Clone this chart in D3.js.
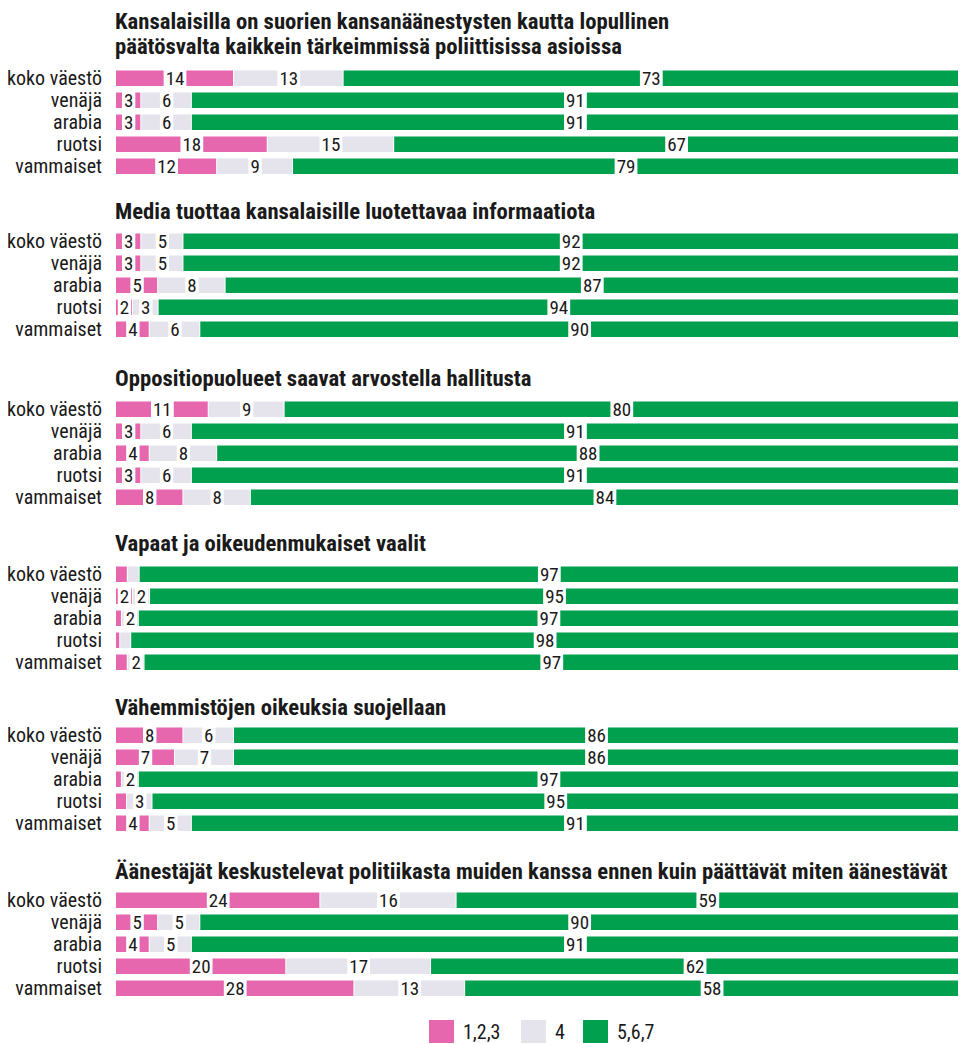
<!DOCTYPE html>
<html><head><meta charset="utf-8">
<script src="https://cdn.jsdelivr.net/npm/d3@7"></script>
<style>
html,body{margin:0;padding:0;background:#fff;}
svg{display:block;}
text{font-family:"Liberation Sans Narrow","Roboto Condensed","DejaVu Sans Condensed",sans-serif;fill:#1a1a1a;}
</style></head>
<body>
<svg id="chart" width="960" height="1044"></svg>
<script>
const groups = ["koko väestö", "venäjä", "arabia", "ruotsi", "vammaiset"];
const categories = ["1,2,3", "4", "5,6,7"];
const colors = ["#e667ae", "#e5e3eb", "#00a04f"];

const titles = [
  ["Kansalaisilla on suorien kansanäänestysten kautta lopullinen", "päätösvalta kaikkein tärkeimmissä poliittisissa asioissa"],
  ["Media tuottaa kansalaisille luotettavaa informaatiota"],
  ["Oppositiopuolueet saavat arvostella hallitusta"],
  ["Vapaat ja oikeudenmukaiset vaalit"],
  ["Vähemmistöjen oikeuksia suojellaan"],
  ["Äänestäjät keskustelevat politiikasta muiden kanssa ennen kuin päättävät miten äänestävät"]
];

// values per group: [1,2,3 , 4 , 5,6,7]
const q1 = [[14, 13, 73], [3, 6, 91], [3, 6, 91], [18, 15, 67], [12, 9, 79]];
const q2 = [[3, 5, 92], [3, 5, 92], [5, 8, 87], [2, 3, 94], [4, 6, 90]];
const q3 = [[11, 9, 80], [3, 6, 91], [4, 8, 88], [3, 6, 91], [8, 8, 84]];
const q4 = [[1.4, 1.4, 97], [2, 2, 95], [0.7, 2, 97], [0.5, 1.3, 98], [1.4, 2, 97]];
const q5 = [[8, 6, 86], [7, 7, 86], [0.7, 2, 97], [1.3, 3, 95], [4, 5, 91]];
const q6 = [[24, 16, 59], [5, 5, 90], [4, 5, 91], [20, 17, 62], [28, 13, 58]];
const panels = [q1, q2, q3, q4, q5, q6];

// layout
const X0 = 116, X1 = 959;
const panelTops = [70.5, 233.5, 401.5, 566.5, 727.5, 892.5];
const titleBaselines = [54, 218.5, 386, 550.5, 715, 879.3];
const lineH = 24.7;

const svg = d3.select("#chart");
const x = d3.scaleLinear().domain([0, 1]).range([X0, X1]);
const y = d3.scaleBand().domain(groups).range([0, 4 * 22 + 15.5]).paddingInner(6.5 / 22).paddingOuter(0);
const color = d3.scaleOrdinal().domain(categories).range(colors);
const fmt = d3.format(".0f");

panels.forEach((data, pi) => {
  const top = panelTops[pi];
  const tl = titles[pi];
  tl.forEach((line, li) => {
    svg.append("text")
      .attr("x", X0 - 1)
      .attr("y", titleBaselines[pi] - (tl.length - 1 - li) * lineH)
      .attr("font-size", 22.7)
      .attr("font-weight", "bold")
      .attr("fill", "#111")
      .text(line);
  });
  const g = svg.append("g").attr("transform", `translate(0,${top})`);
  groups.forEach((grp, gi) => {
    const vals = data[gi];
    const total = d3.sum(vals);
    const stack = [];
    let acc = 0;
    vals.forEach((v, ci) => { stack.push({c: categories[ci], v, s: acc / total, e: (acc + v) / total}); acc += v; });
    const row = g.append("g").attr("transform", `translate(0,${y(grp)})`);
    const bh = y.bandwidth();
    row.selectAll("rect.seg").data(stack).join("rect")
      .attr("class", "seg")
      .attr("x", d => x(d.s))
      .attr("width", d => Math.max(0, x(d.e) - x(d.s) - 1))
      .attr("y", 0)
      .attr("height", bh)
      .attr("fill", d => color(d.c));
    g.append("text")
      .attr("x", 102)
      .attr("y", y(grp) + bh / 2)
      .attr("dy", "0.36em")
      .attr("text-anchor", "end")
      .attr("font-size", 20)
      .text(grp);
    stack.forEach(d => {
      const lab = fmt(d.v);
      if (+lab < 2) return;
      const cx = (x(d.s) + x(d.e)) / 2;
      const bg = row.append("rect").attr("fill", "#fff");
      const t = row.append("text")
        .attr("x", cx)
        .attr("y", bh / 2)
        .attr("dy", "0.36em")
        .attr("text-anchor", "middle")
        .attr("font-size", 19)
        .text(lab);
      const w = t.node().getComputedTextLength();
      bg.attr("x", cx - w / 2 - 2).attr("width", w + 4).attr("y", -1).attr("height", bh + 2);
    });
  });
});

// legend
const lg = svg.append("g").attr("transform", "translate(0,1020)");
const legX = [429, 521, 583];
categories.forEach((c, i) => {
  lg.append("rect").attr("x", legX[i]).attr("y", 0).attr("width", 25).attr("height", 23).attr("fill", color(c));
  lg.append("text").attr("x", legX[i] + 34).attr("y", 11.5).attr("dy", "0.36em").attr("font-size", 20).text(c);
});
</script>
</body></html>
